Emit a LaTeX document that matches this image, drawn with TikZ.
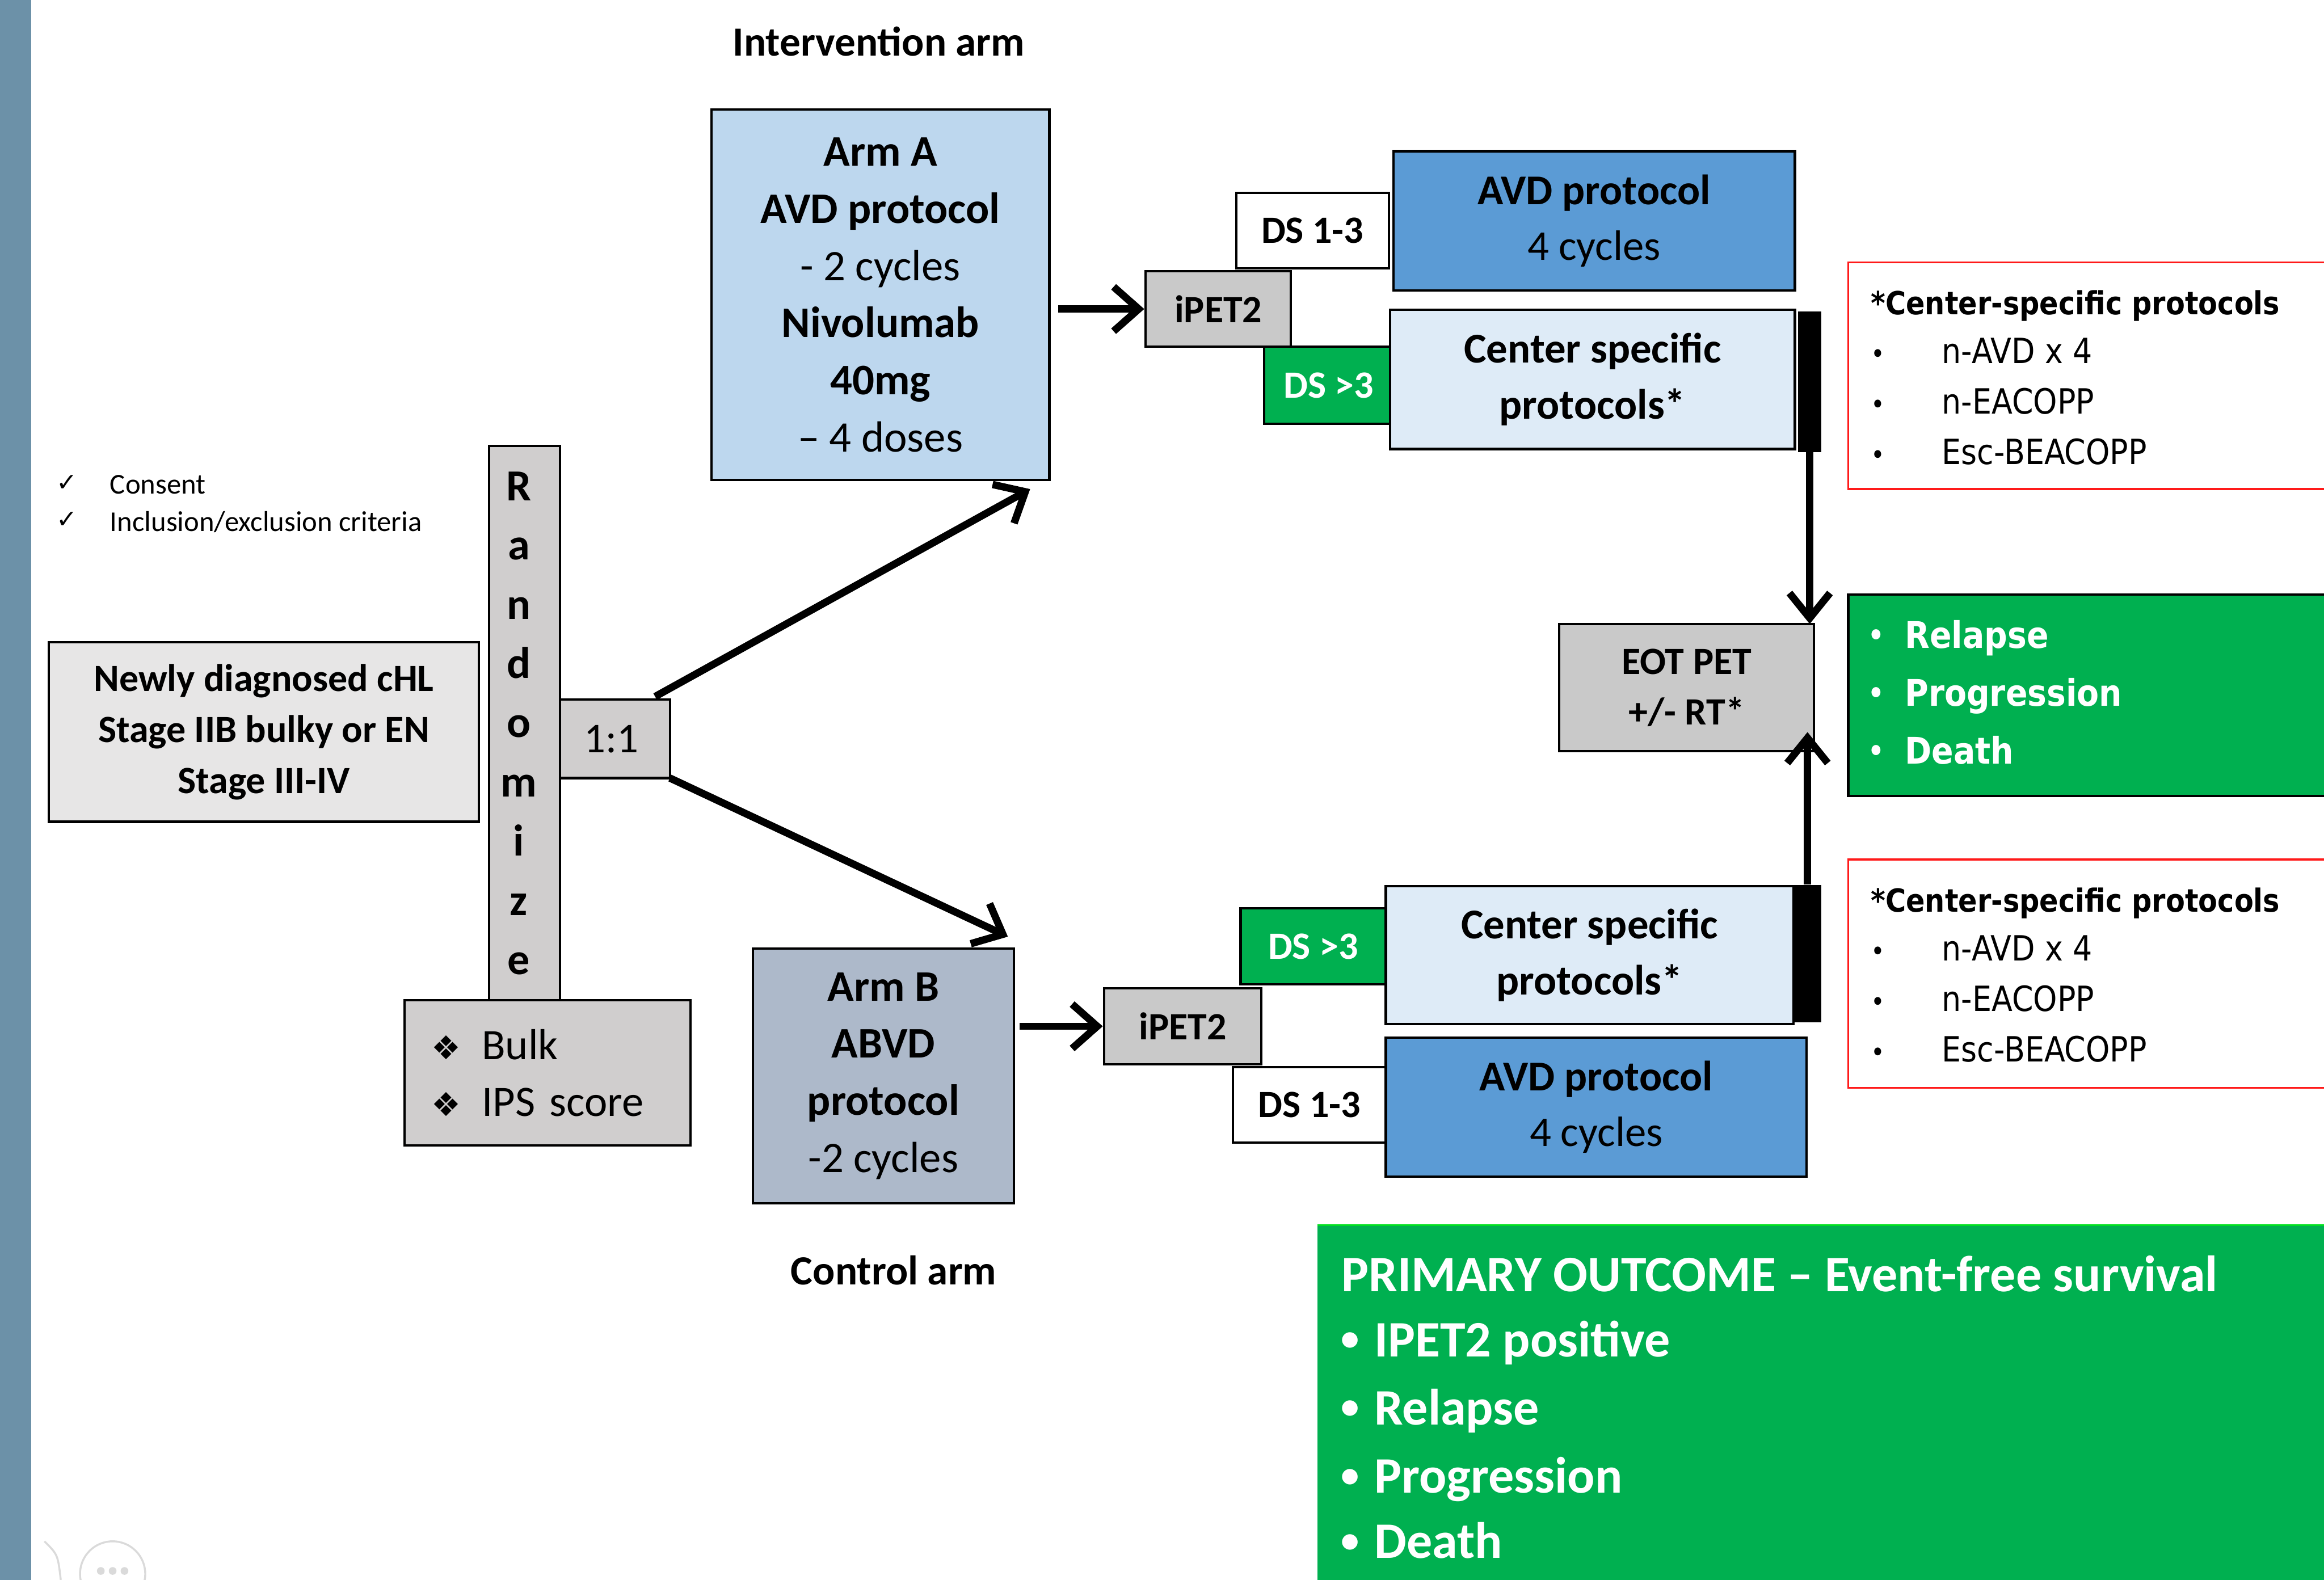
\documentclass[tikz,border=0pt]{standalone}
\usepackage{fontspec}
\setmainfont{Carlito}
\newfontfamily\symf{DejaVu Sans}
\newfontfamily\tah[FakeStretch=0.88]{DejaVu Sans}
\usetikzlibrary{arrows.meta,calc}
\definecolor{cBar}{HTML}{6C91A8}
\definecolor{cArmA}{HTML}{BDD7EE}
\definecolor{cArmB}{HTML}{ADB9CA}
\definecolor{cAVD}{HTML}{5B9BD5}
\definecolor{cCtr}{HTML}{DEEBF7}
\definecolor{cGrn}{HTML}{00B050}
\definecolor{cGray}{HTML}{D0CECE}
\definecolor{cPet}{HTML}{C9C9C9}
\definecolor{cNew}{HTML}{E7E6E6}
\definecolor{cRed}{HTML}{FF1A1A}
\definecolor{cUI}{HTML}{DADADA}
\tikzset{
  box/.style={draw=black, line width=1.2pt, inner sep=0pt, outer sep=0pt, align=center},
  wh/.style 2 args={minimum width=#1*0.027cm, minimum height=#2*0.027cm},
  fs/.style 2 args={font=\fontsize{#1}{#2}\selectfont},
  arr/.style={line width=3.8pt, -{Straight Barb[length=13pt,width=23pt,line width=3.8pt]}},
  varr/.style={line width=3.8pt, -{Straight Barb[length=13pt,width=21pt,line width=3.8pt]}},
  lbl/.style={inner sep=0pt, anchor=west, text height=0.72em, text depth=0.05em},
  blt/.style={inner sep=0pt, text height=0.72em, text depth=0.05em},
  redbox/.style={draw=cRed, line width=1.1pt, fill=white, inner sep=0pt},
}
\begin{document}
\begin{tikzpicture}[x=0.027cm,y=-0.027cm]
\useasboundingbox (0,0) rectangle (1568,1066);
\clip (0,0) rectangle (1568,1066);
\fill[white] (0,0) rectangle (1568,1066);
\fill[cBar] (0,0) rectangle (21,1066);
% faint slide controls
\draw[cUI, line width=1pt] (30,1040) .. controls (39,1049) .. (41,1066);
\draw[cUI, line width=1pt] (76,1062) circle (22);
\fill[cUI] (68,1060) circle (2.6) (76,1060) circle (2.6) (84,1060) circle (2.6);

% headings
\node[font=\bfseries\fontsize{21.5}{24}\selectfont] (interv) at (593,28) {Intervention arm};
\node[font=\bfseries\fontsize{21.5}{24}\selectfont] (control) at (603,857) {Control arm};

% checklist
\node[font=\symf\fontsize{13}{13}\selectfont] (ck1) at (45,326) {✓};
\node[font=\symf\fontsize{13}{13}\selectfont] (ck2) at (45,351) {✓};
\node[lbl, fs={14.9}{16}] (consent) at (74,329) {Consent};
\node[lbl, fs={14.9}{16}] (incl) at (74,354) {Inclusion/exclusion criteria};

% left boxes
\node[box, fill=cNew, wh={290}{121}, font=\bfseries\fontsize{20}{26.5}\selectfont] (newly) at (178,494)
  {Newly diagnosed cHL\\Stage IIB bulky or EN\\Stage III-IV};
\node[box, fill=cGray, wh={48}{374}, font=\bfseries\fontsize{23}{30.7}\selectfont] (rand) at (354,488)
  {\hspace*{-6pt}R\\\hspace*{-6pt}a\\\hspace*{-6pt}n\\\hspace*{-6pt}d\\\hspace*{-6pt}o\\\hspace*{-6pt}m\\\hspace*{-6pt}i\\\hspace*{-6pt}z\\\hspace*{-6pt}e};
\node[box, fill=cGray, wh={74}{53}, fs={22}{26}] (one) at (415,498.5) {\hspace*{-4pt}1:1};
\node[box, fill=cGray, wh={193}{98}, align=left, text width=4.24cm, fs={22.5}{29.2}] (bulk) at (369.5,724)
  {{\symf\fontsize{17}{17}\selectfont ❖}\hspace{11pt}Bulk\\{\symf\fontsize{17}{17}\selectfont ❖}\hspace{11pt}IPS score};

% arms
\node[box, fill=cArmA, wh={228}{250}, fs={22.6}{29.6}] (armA) at (594,199)
  {\textbf{Arm A}\\\textbf{AVD protocol}\\- 2 cycles\\\textbf{Nivolumab}\\\textbf{40mg}\\– 4 doses};
\node[box, fill=cArmB, wh={176}{172}, fs={22.6}{29.6}] (armB) at (596,726)
  {\textbf{Arm B}\\\textbf{ABVD}\\\textbf{protocol}\\-2 cycles};

% upper branch
\node[box, fill=cPet, wh={98}{51}, font=\bfseries\fontsize{20}{24}\selectfont] (ipetA) at (822,208.5) {iPET2};
\node[box, fill=white, wh={103}{51}, font=\bfseries\fontsize{20}{24}\selectfont] (dslA) at (885.5,155.5) {DS 1-3};
\node[box, fill=cAVD, wh={271}{94}, fs={22}{29}] (avdA) at (1075.5,149) {\textbf{AVD protocol}\\4 cycles};
\node[box, fill=cGrn, wh={87}{52}, text=white, font=\bfseries\fontsize{20}{24}\selectfont] (dshA) at (896.5,260) {DS >3};
\node[box, fill=cCtr, wh={273}{94}, font=\bfseries\fontsize{22}{29}\selectfont] (ctrA) at (1074.5,256) {Center specific\\protocols*};
\node[fill=black, inner sep=0pt, wh={16}{95}] (barA) at (1221,257.5) {};

% lower branch
\node[box, fill=cPet, wh={106}{51}, font=\bfseries\fontsize{20}{24}\selectfont] (ipetB) at (798,692.5) {iPET2};
\node[box, fill=cGrn, wh={98}{51}, text=white, font=\bfseries\fontsize{20}{24}\selectfont] (dshB) at (886,638.5) {DS >3};
\node[box, fill=cCtr, wh={275}{93}, font=\bfseries\fontsize{22}{29}\selectfont] (ctrB) at (1072.5,644.5) {Center specific\\protocols*};
\node[fill=black, inner sep=0pt, wh={19}{93}] (barB) at (1219.5,643.5) {};
\node[box, fill=white, wh={103}{51}, font=\bfseries\fontsize{20}{24}\selectfont] (dslB) at (883.5,745.5) {DS 1-3};
\node[box, fill=cAVD, wh={284}{94}, fs={22}{29}] (avdB) at (1077,747) {\textbf{AVD protocol}\\4 cycles};

% EOT
\node[box, fill=cPet, wh={172}{86}, font=\bfseries\fontsize{20}{26}\selectfont] (eot) at (1138,464) {EOT PET\\+/- RT*};

% red boxes (top)
\node[redbox, wh={353}{153}] (redA) at (1423.5,253.5) {};
\node[lbl, font=\tah\bfseries\fontsize{16.5}{20}\selectfont] (redAt) at (1262,208) {*Center-specific protocols};
\node[blt, font=\tah\fontsize{14}{14}\selectfont] (redAb1) at (1267,241) {•};
\node[blt, font=\tah\fontsize{14}{14}\selectfont] (redAb2) at (1267,275) {•};
\node[blt, font=\tah\fontsize{14}{14}\selectfont] (redAb3) at (1267,309) {•};
\node[lbl, font=\tah\fontsize{18}{20}\selectfont] (redA1) at (1310,241) {n-AVD x 4};
\node[lbl, font=\tah\fontsize{18}{20}\selectfont] (redA2) at (1310,275) {n-EACOPP};
\node[lbl, font=\tah\fontsize{18}{20}\selectfont] (redA3) at (1310,309) {Esc-BEACOPP};

% red boxes (bottom)
\node[redbox, wh={353}{154}] (redB) at (1423.5,657) {};
\node[lbl, font=\tah\bfseries\fontsize{16.5}{20}\selectfont] (redBt) at (1262,611) {*Center-specific protocols};
\node[blt, font=\tah\fontsize{14}{14}\selectfont] (redBb1) at (1267,644) {•};
\node[blt, font=\tah\fontsize{14}{14}\selectfont] (redBb2) at (1267,678) {•};
\node[blt, font=\tah\fontsize{14}{14}\selectfont] (redBb3) at (1267,712) {•};
\node[lbl, font=\tah\fontsize{18}{20}\selectfont] (redB1) at (1310,644) {n-AVD x 4};
\node[lbl, font=\tah\fontsize{18}{20}\selectfont] (redB2) at (1310,678) {n-EACOPP};
\node[lbl, font=\tah\fontsize{18}{20}\selectfont] (redB3) at (1310,712) {Esc-BEACOPP};

% outcomes box
\node[box, fill=cGrn, wh={353}{136}] (outc) at (1423.5,469) {};
\node[blt, text=white, font=\tah\bfseries\fontsize{15}{15}\selectfont] (outb1) at (1266,431) {•};
\node[blt, text=white, font=\tah\bfseries\fontsize{15}{15}\selectfont] (outb2) at (1266,470) {•};
\node[blt, text=white, font=\tah\bfseries\fontsize{15}{15}\selectfont] (outb3) at (1266,509) {•};
\node[lbl, text=white, font=\tah\bfseries\fontsize{19}{22}\selectfont] (out1) at (1285,433) {Relapse};
\node[lbl, text=white, font=\tah\bfseries\fontsize{19}{22}\selectfont] (out2) at (1285,472) {Progression};
\node[lbl, text=white, font=\tah\bfseries\fontsize{19}{22}\selectfont] (out3) at (1285,511) {Death};

% primary outcome
\node[fill=cGrn, inner sep=0pt, wh={711}{273}] (prim) at (1244.5,963.5) {};
\draw[green!60!cGrn, line width=1pt] (prim.north west) -- (prim.north east);
\node[lbl, text=white, font=\bfseries\fontsize{26.5}{30}\selectfont] (primt) at (905,867) {PRIMARY OUTCOME – Event-free survival};
\node[blt, text=white, font=\bfseries\fontsize{19}{30}\selectfont] (pb1) at (911,907) {•};
\node[blt, text=white, font=\bfseries\fontsize{19}{30}\selectfont] (pb2) at (911,953) {•};
\node[blt, text=white, font=\bfseries\fontsize{19}{30}\selectfont] (pb3) at (911,999) {•};
\node[blt, text=white, font=\bfseries\fontsize{19}{30}\selectfont] (pb4) at (911,1043) {•};
\node[lbl, text=white, font=\bfseries\fontsize{26.5}{30}\selectfont] (p1) at (927,911) {IPET2 positive};
\node[lbl, text=white, font=\bfseries\fontsize{26.5}{30}\selectfont] (p2) at (927,957) {Relapse};
\node[lbl, text=white, font=\bfseries\fontsize{26.5}{30}\selectfont] (p3) at (927,1003) {Progression};
\node[lbl, text=white, font=\bfseries\fontsize{26.5}{30}\selectfont] (p4) at (927,1047) {Death};

% connectors
\draw[arr] ($(one.north east)+(-10,-2)$) -- ($(armA.south east)+(-13,6)$);
\draw[arr] (one.south east) -- ($(armB.north east)+(-4,-8)$);
\draw[arr] ($(armA.east |- ipetA.west)+(6,0)$) -- ($(ipetA.west)+(-1,0)$);
\draw[arr] ($(armB.east |- ipetB.west)+(4,0)$) -- ($(ipetB.west)+(-1,0)$);
\draw[varr] (barA.south) -- (barA.south |- eot.north);
\draw[varr] (barB.north) -- ($(barB.north |- eot.south)+(0,-13)$);
\end{tikzpicture}
\end{document}
